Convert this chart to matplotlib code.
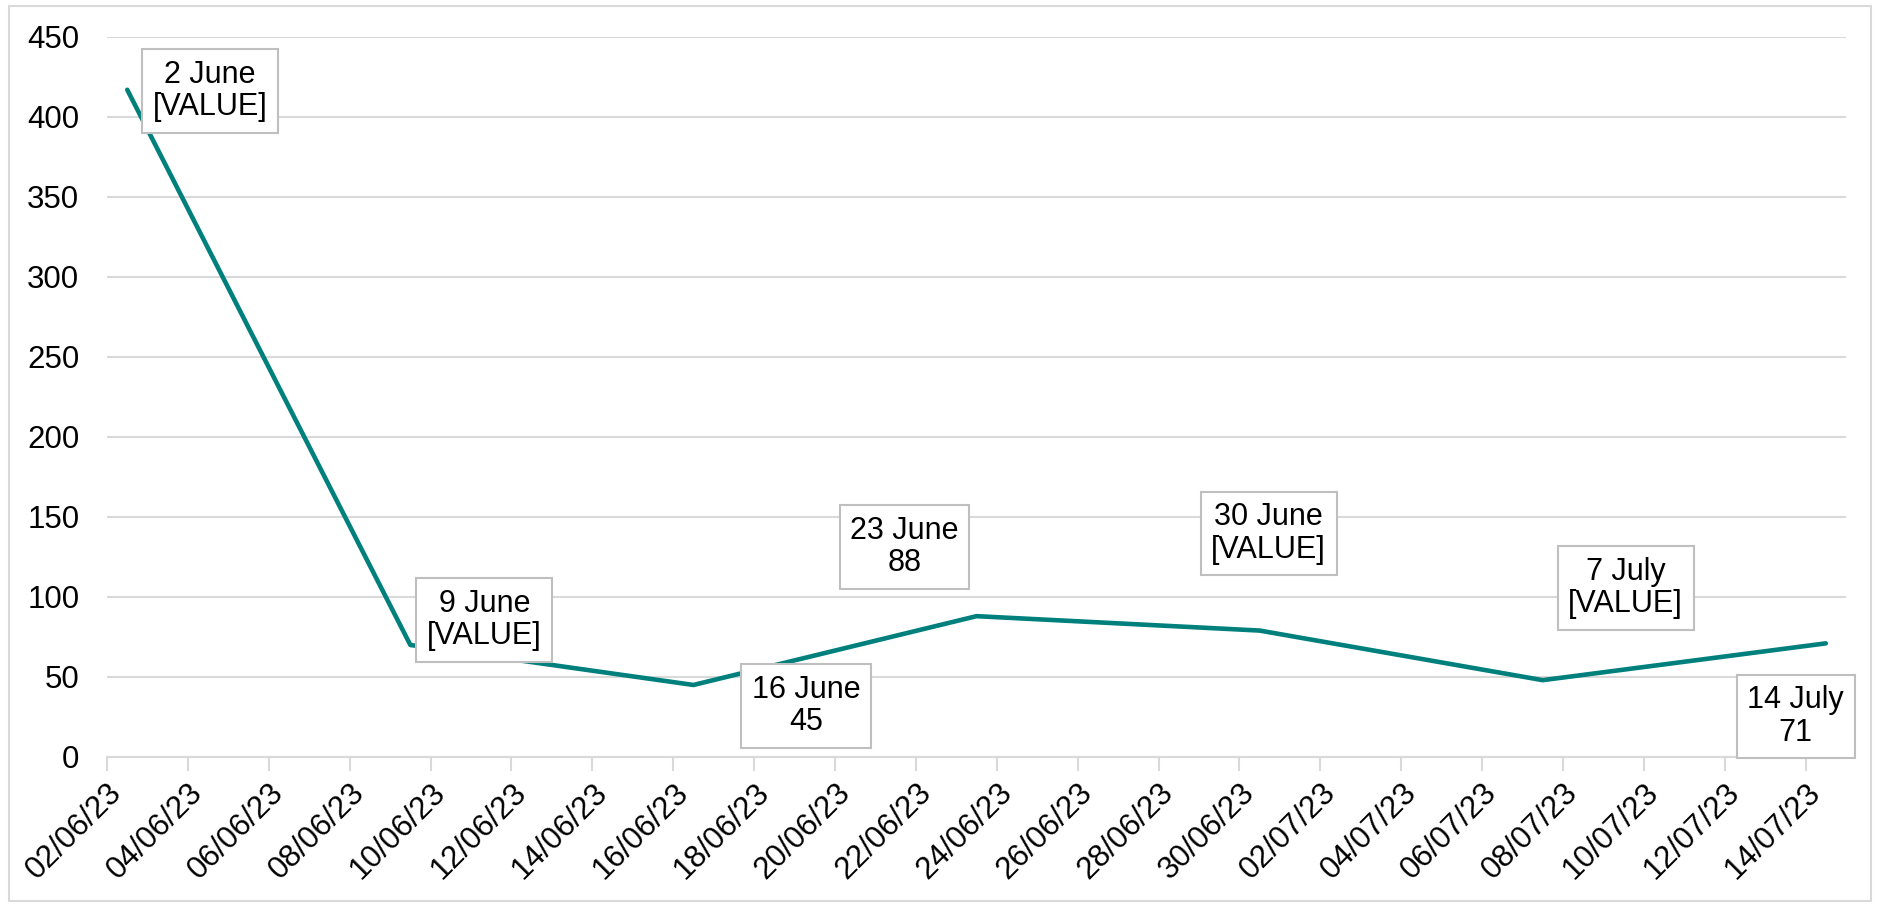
import matplotlib
matplotlib.use("Agg")
import matplotlib.pyplot as plt
import matplotlib.dates as mdates
from matplotlib.patches import Rectangle
import numpy as np
import pandas as pd

plt.rcParams['font.family'] = ['Liberation Sans', 'DejaVu Sans']

# weekly data points
dates = pd.to_datetime(['2023-06-02', '2023-06-09', '2023-06-16', '2023-06-23',
                        '2023-06-30', '2023-07-07', '2023-07-14'])
values = [417, 70, 45, 88, 79, 48, 71]
label_days = ['2 June', '9 June', '16 June', '23 June', '30 June', '7 July', '14 July']
label_vals = ['[VALUE]', '[VALUE]', '45', '88', '[VALUE]', '[VALUE]', '71']
# label offsets from the point, in pixels
label_offsets = [(83, -1), (74, 25), (113, -21), (-72, 69), (9, 97), (83, 92), (-30, -73)]

teal = '#00807D'
grid_col = '#D9D9D9'

fig = plt.figure(figsize=(18.81, 9.06), dpi=100)
ax = fig.add_axes([0.0569, 0.1645, 0.9245, 0.7947])

# points sit in the middle of their day on the date axis
xpos = mdates.date2num(dates) + 0.5
ax.plot(xpos, values, color=teal, linewidth=3.3, solid_capstyle='round',
        solid_joinstyle='round', zorder=3)

for x, v, d, lv, off in zip(xpos, values, label_days, label_vals, label_offsets):
    ax.annotate(f"{d}\n{lv}", xy=(x, v), xytext=off, textcoords='offset pixels',
                ha='center', va='center', fontsize=22, linespacing=1.1,
                bbox=dict(boxstyle='square,pad=0.35', fc='white', ec='#BFBFBF', lw=1.5),
                zorder=4)

start = mdates.date2num(pd.Timestamp('2023-06-02'))
end = mdates.date2num(pd.Timestamp('2023-07-15'))
ax.set_xlim(start, end)
ax.set_ylim(0, 450)
ax.set_yticks(np.arange(0, 451, 50))

ticks = mdates.date2num(pd.date_range('2023-06-02', '2023-07-14', freq='2D'))
ax.set_xticks(ticks)
ax.xaxis.set_major_formatter(mdates.DateFormatter('%d/%m/%y'))
plt.setp(ax.get_xticklabels(), rotation=45, ha='right', rotation_mode='anchor')

ax.tick_params(axis='x', length=10, width=1.5, color=grid_col, labelsize=22.5, pad=5)
ax.tick_params(axis='y', length=0, labelsize=22.5, pad=20)

ax.grid(axis='y', color=grid_col, linewidth=1.5)
ax.set_axisbelow(True)
for s in ['top', 'right', 'left']:
    ax.spines[s].set_visible(False)
ax.spines['bottom'].set_color(grid_col)
ax.spines['bottom'].set_linewidth(1.5)
ax.spines['bottom'].set_zorder(2)

# outer chart border
fig.patches.append(Rectangle((0.005, 0.005), 0.9895, 0.9885, transform=fig.transFigure,
                             fill=False, ec=grid_col, lw=1.5))

fig.savefig('out.png', dpi=100)
